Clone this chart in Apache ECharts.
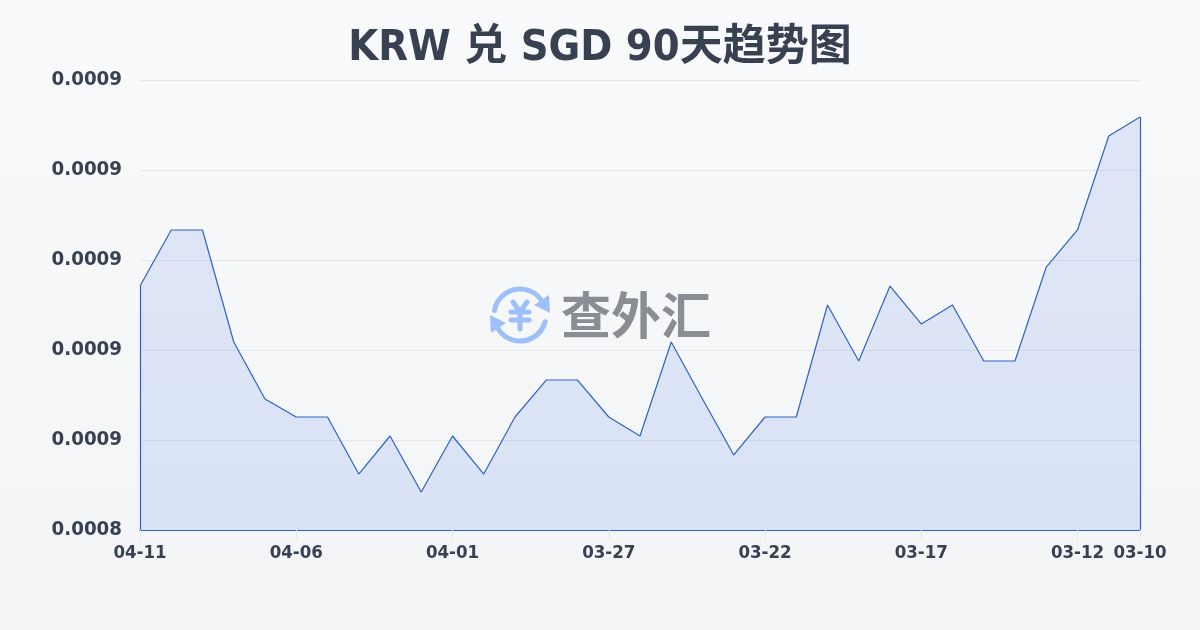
<!DOCTYPE html>
<html><head><meta charset="utf-8">
<style>html,body{margin:0;padding:0;width:1200px;height:630px;overflow:hidden}#c{width:1200px;height:630px}</style>
<script src="https://cdn.jsdelivr.net/npm/echarts@6/dist/echarts.min.js"></script>
</head><body><div id="c"></div>
<script>
const titleText = 'KRW 兑 SGD 90天趋势图';
const categories = ['04-11','04-10','04-09','04-08','04-07','04-06','04-05','04-04','04-03','04-02','04-01','03-31','03-30','03-29','03-28','03-27','03-26','03-25','03-24','03-23','03-22','03-21','03-20','03-19','03-18','03-17','03-16','03-15','03-14','03-13','03-12','03-11','03-10'];
const rates = [0.00089422,0.00090667,0.00090667,0.00088178,0.00086911,0.00086511,0.00086511,0.00085244,0.00086089,0.00084844,0.00086089,0.00085244,0.00086511,0.00087333,0.00087333,0.00086511,0.00086089,0.00088178,0.00086911,0.00085667,0.00086511,0.00086511,0.00089,0.00087756,0.00089422,0.00088578,0.00089,0.00087756,0.00087756,0.00089844,0.00090667,0.00092756,0.00093178];
const yMin = 0.00084, yMax = 0.00094, yStep = 0.00002;
const TXT = '#374151';
const FONT = '"DejaVu Sans Condensed","Noto Sans CJK SC",sans-serif';
const LINE = '#2f62c4';
const LOGO = '#9dc0fb';
const last = categories.length - 1;
const showTick = i => i % 5 === 0 || i === last;
const D = Math.PI / 180;
const chart = echarts.init(document.getElementById('c'), null, {renderer:'canvas'});
chart.setOption({
  animation:false,
  backgroundColor:{type:'linear',x:0,y:0,x2:0,y2:1,colorStops:[{offset:0,color:'#f9fafb'},{offset:1,color:'#f3f4f6'}]},
  title:{text:titleText,left:'center',top:22,textStyle:{color:TXT,fontSize:43,fontWeight:'bold',fontFamily:FONT}},
  grid:{left:140,right:60,top:80,bottom:100,containLabel:false},
  xAxis:{type:'category',data:categories,boundaryGap:false,
    axisLine:{show:true,lineStyle:{color:LINE,width:1.2}},
    axisTick:{show:true,length:10,interval:(i)=>showTick(i),lineStyle:{color:'#e5e7eb'}},
    axisLabel:{interval:(i)=>showTick(i),color:TXT,fontSize:18.5,fontWeight:'bold',fontFamily:FONT,margin:14,hideOverlap:false},
    splitLine:{show:false}},
  yAxis:{type:'value',min:yMin,max:yMax,interval:yStep,
    axisLine:{show:false},axisTick:{show:false},
    axisLabel:{formatter:v=>v.toFixed(4),color:TXT,fontSize:20.3,fontWeight:'bold',fontFamily:FONT,margin:18,align:'right'},
    splitLine:{show:true,lineStyle:{color:'#e5e7eb',width:1}}},
  series:[{type:'line',data:rates,showSymbol:false,symbol:'none',smooth:false,
    lineStyle:{color:LINE,width:1.2},areaStyle:{color:'rgba(37,99,235,0.18)'},z:2,
    markLine:{silent:true,symbol:'none',label:{show:false},animation:false,
      lineStyle:{color:LINE,width:1.2,type:'solid'},
      data:[[{xAxis:0,yAxis:yMin},{xAxis:0,yAxis:rates[0]}],
            [{xAxis:last,yAxis:yMin},{xAxis:last,yAxis:rates[last]}]]}}],
  graphic:[
    {type:'arc',z:10,shape:{cx:520,cy:315,r:26,startAngle:190*D,endAngle:325*D},style:{stroke:LOGO,fill:null,lineWidth:5,lineCap:'round'}},
    {type:'arc',z:10,shape:{cx:520,cy:315,r:26,startAngle:15*D,endAngle:148*D},style:{stroke:LOGO,fill:null,lineWidth:5,lineCap:'round'}},
    {type:'polygon',z:10,shape:{points:[[550,313],[549,295],[534,305]]},style:{fill:LOGO}},
    {type:'polygon',z:10,shape:{points:[[490,315],[491,333],[506,323]]},style:{fill:LOGO}},
    {type:'polyline',z:10,shape:{points:[[513,302],[520,312],[527,302]]},style:{stroke:LOGO,fill:null,lineWidth:5,lineCap:'round',lineJoin:'round'}},
    {type:'line',z:10,shape:{x1:520,y1:312,x2:520,y2:329},style:{stroke:LOGO,lineWidth:5,lineCap:'round'}},
    {type:'line',z:10,shape:{x1:511,y1:312,x2:529,y2:312},style:{stroke:LOGO,lineWidth:5,lineCap:'round'}},
    {type:'line',z:10,shape:{x1:511,y1:320,x2:529,y2:320},style:{stroke:LOGO,lineWidth:5,lineCap:'round'}},
    {type:'text',z:10,x:636,y:315,style:{text:'查外汇',fill:'#8a8d93',font:'bold 50px "Noto Sans CJK SC"',align:'center',verticalAlign:'middle'}}
  ]
});
</script></body></html>
